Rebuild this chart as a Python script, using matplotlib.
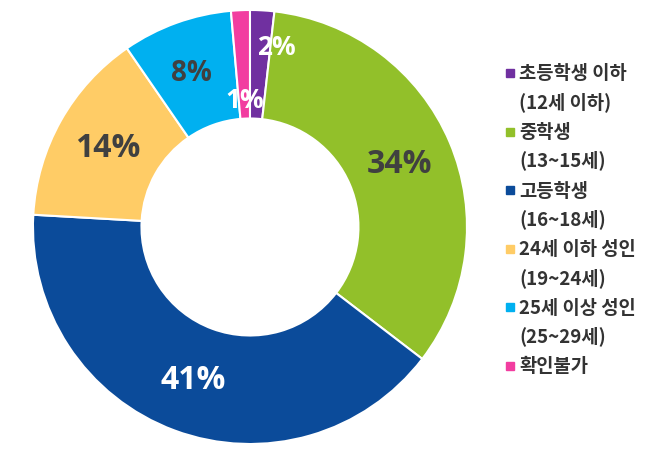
import matplotlib.pyplot as plt
import numpy as np
from matplotlib.lines import Line2D

plt.rcParams['font.family'] = ['Noto Sans CJK KR', 'DejaVu Sans']

# 데이터
labels = ['초등학생 이하\n(12세 이하)', '중학생\n(13~15세)', '고등학생\n(16~18세)',
          '24세 이하 성인\n(19~24세)', '25세 이상 성인\n(25~29세)', '확인불가']
values = [1.8, 33.6, 40.5, 14.5, 8.2, 1.4]
pct_text = ['2%', '34%', '41%', '14%', '8%', '1%']
colors = ['#7030A0', '#92C02A', '#0B4B9A', '#FFCC66', '#00B0F0', '#F23DA0']
text_colors = ['white', '#404040', 'white', '#404040', '#404040', 'white']

fig = plt.figure(figsize=(6.62, 4.56), dpi=100)
ax = fig.add_axes([0.0498, 0.024, 0.6556, 0.952])

wedges, _ = ax.pie(values, colors=colors, startangle=90, counterclock=False,
                   radius=1.0, wedgeprops=dict(width=0.5, edgecolor='white', linewidth=1.5))
ax.set_xlim(-1, 1)
ax.set_ylim(-1, 1)
ax.set_aspect('equal')
ax.axis('off')

# 퍼센트 라벨 (작은 조각은 위치 따로 조정)
label_r = [0.84, 0.75, 0.75, 0.75, 0.76, 0.59]
label_shift = [-5, 0, 0, 0, 1, 0]  # 각도 보정(도)
sizes = [19, 23, 23, 23, 20, 19]
for i, w in enumerate(wedges):
    ang = np.deg2rad((w.theta1 + w.theta2) / 2 + label_shift[i])
    x = label_r[i] * np.cos(ang)
    y = label_r[i] * np.sin(ang)
    ax.text(x, y, pct_text[i], ha='center', va='center', fontsize=sizes[i],
            fontweight='bold', color=text_colors[i], family=['Open Sans', 'DejaVu Sans'])

# 범례 (직접 그리기)
y0 = 1 - 74 / 456
item_gap = 58.6 / 456
line_gap = 28 / 456
for i, lab in enumerate(labels):
    y = y0 - i * item_gap
    fig.add_artist(Line2D([510 / 662], [y], marker='s', markersize=5.5,
                          color=colors[i], transform=fig.transFigure))
    for j, line in enumerate(lab.split('\n')):
        fig.text(519 / 662, y - j * line_gap, line, ha='left', va='center',
                 fontsize=13.5, fontweight='bold', color='#333333')

plt.savefig('out.png', dpi=100)
